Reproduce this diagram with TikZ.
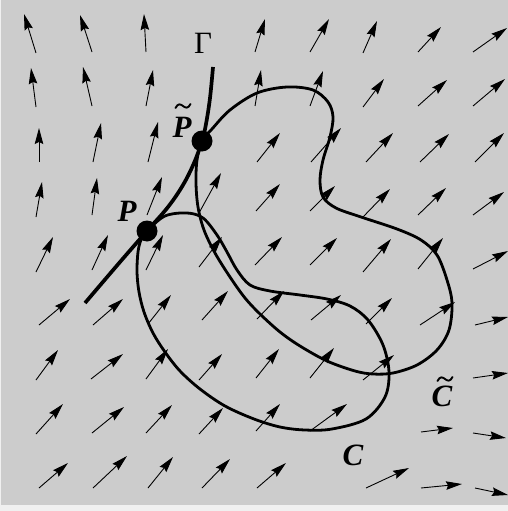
\documentclass[tikz,border=0pt]{standalone}
\usepackage{fontspec}
\setmainfont{Liberation Serif}
\usetikzlibrary{arrows.meta}
\definecolor{bggray}{HTML}{CCCCCC}
\definecolor{strip}{HTML}{F0F0F0}
\tikzset{
  vec/.style={line width=0.9pt,-{Stealth[length=16pt,width=8.5pt,inset=2pt]}},
  loopcurve/.style={line width=2.8pt},
  gammacurve/.style={line width=3.7pt},
  dot/.style={circle,fill=black,inner sep=0pt,minimum size=21pt},
  lab/.style={inner sep=0pt,anchor=base,font=\fontsize{31}{31}\selectfont\bfseries\itshape},
  glab/.style={inner sep=0pt,anchor=base,font=\fontsize{31}{31}\selectfont},
  tildemark/.style={line width=1.9pt,line cap=round}
}
\begin{document}
\begin{tikzpicture}[x=1pt,y=-1pt]
\useasboundingbox (0,0) rectangle (508,511);
\fill[strip] (0,0) rectangle (508,511);
\fill[bggray] (1,0) rectangle (508,505);
% vector field
\foreach \a/\b/\c/\d in {
 36/53/24/14, 92/52/80/15, 146/52/144/14, 255/52/265/19, 310/52/329/19, 363/53/377/21, 418/52/441/27, 473/52/507/28,
 36/107/31/68, 92/106/83/67, 146/106/153/70, 255/106/261/70, 310/106/323/71, 363/107/384/79, 418/106/447/80, 473/106/505/79,
 39/162/39/128, 93/162/101/123, 148/162/158/122, 257/162/280/133, 311/162/341/128, 366/162/393/133, 420/162/449/134, 475/162/504/133,
 36/217/42/182, 92/215/97/178, 147/215/162/177, 199/213/221/173, 256/211/280/184, 310/211/335/186, 363/217/390/189, 418/215/446/188, 473/215/504/192,
 36/272/53/237, 92/270/108/235, 146/270/163/235, 199/267/222/237, 255/265/282/237, 310/265/337/238, 363/272/391/239, 418/269/443/238, 473/269/508/251,
 39/325/70/299, 93/325/123/299, 148/324/171/295, 202/320/228/291, 257/319/284/291, 311/320/341/295, 366/324/392/298, 420/325/455/302, 475/325/508/317,
 36/380/58/350, 91/379/123/354, 146/379/168/349, 199/380/222/354, 256/378/279/349, 310/378/334/348, 363/380/394/355, 473/378/508/373,
 36/434/63/404, 92/433/124/407, 146/433/172/405, 199/434/223/408, 256/431/280/404, 310/431/347/404, 421/432/453/428, 473/433/506/438,
 39/488/68/463, 93/488/127/456, 148/488/173/457, 202/488/230/459, 257/488/286/463, 366/488/409/468, 421/488/462/484, 475/488/508/495}
 \draw[vec] (\a,\b) -- (\c,\d);
% curve C
\draw[loopcurve] plot[smooth cycle,tension=0.55] coordinates {
 (147,231) (165,216) (187,213) (203,218) (217,235) (227,252) (237,270) (250,285) (270,291)
 (300,295) (327,299) (350,306) (368,320) (383,345) (389,372) (385,397) (366,419) (332,429)
 (305,430) (280,427) (254,419) (225,406) (200,389) (180,371) (165,352) (153,333) (144,312)
 (139,292) (137,272) (138,252) (141,240)};
% curve C tilde
\draw[loopcurve] plot[smooth cycle,tension=0.55] coordinates {
 (202,141) (212,129) (230,110) (257,93) (287,87) (313,90) (328,102) (333,117) (330,137)
 (323,160) (320,180) (323,197) (336,208) (361,217) (397,229) (421,240) (437,255) (447,280)
 (452,303) (449,330) (437,350) (417,365) (393,373) (373,374) (355,371) (327,361) (300,346)
 (280,332) (260,314) (245,298) (230,277) (215,253) (204,230) (198,207) (196,183) (197,160)};
% Gamma
\draw[gammacurve] plot[smooth,tension=0.6] coordinates {
 (213,67) (210,98) (206,124) (202,141) (194,163) (183,185) (168,207) (147,231) (120,262) (85,303)};
\node[dot] (Pt) at (202,141) {};
\node[dot] (P) at (147,231) {};
\node[glab] (gam) at (203,54) {Γ};
\node[lab] (lP) at (127,221) {P};
\node[lab] (lPt) at (182,137) {P};
\node[lab] (lC) at (353,465) {C};
\node[lab] (lCt) at (442,406) {C};
% tildes
\draw[tildemark,shift={(183,106)}] (-7.5,2) .. controls (-5,-3) and (-2.5,-2) .. (0,0) .. controls (2.5,2) and (5,3) .. (7.5,-2);
\draw[tildemark,shift={(445,379)}] (-7.5,2) .. controls (-5,-3) and (-2.5,-2) .. (0,0) .. controls (2.5,2) and (5,3) .. (7.5,-2);
\end{tikzpicture}
\end{document}
